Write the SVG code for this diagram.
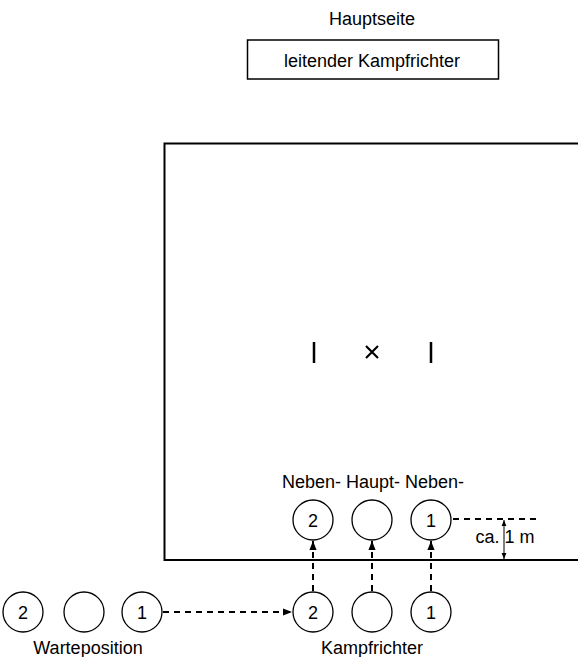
<svg xmlns="http://www.w3.org/2000/svg" width="578" height="657" viewBox="0 0 578 657">
<style>
text{font-family:"Liberation Sans",Arial,sans-serif;font-size:18px;fill:#000;text-anchor:middle}
.c{fill:#fff;stroke:#000;stroke-width:1.3}
.d{stroke:#000;stroke-width:2;stroke-dasharray:6,5;fill:none}
.s{stroke:#000;stroke-width:1;fill:none}
</style>
<defs>
<marker id="ah" viewBox="0 0 10 10" refX="10" refY="5" markerWidth="9" markerHeight="9" markerUnits="userSpaceOnUse" orient="auto"><path d="M0,1 L10,5 L0,9 Z" fill="#000"/></marker>
<marker id="sa" viewBox="0 0 10 10" refX="10" refY="5" markerWidth="6" markerHeight="6" markerUnits="userSpaceOnUse" orient="auto-start-reverse"><path d="M0,1 L10,5 L0,9 Z" fill="#000"/></marker>
</defs>
<text x="372" y="25">Hauptseite</text>
<g id="leitender"><rect x="247.5" y="40" width="251" height="39" fill="#fff" stroke="#000" stroke-width="1.5"/><text x="372" y="66.5">leitender Kampfrichter</text></g>
<g id="feld"><path d="M578,143.5 H164.5 V560 H578" fill="none" stroke="#000" stroke-width="2"/>
<line x1="314" y1="342" x2="314" y2="363" stroke="#000" stroke-width="2.5"/>
<line x1="431" y1="342" x2="431" y2="363" stroke="#000" stroke-width="2.5"/>
<path d="M366,346 L378,358 M378,346 L366,358" stroke="#000" stroke-width="2.2"/></g>
<text x="373" y="488">Neben- Haupt- Neben-</text>
<g id="kr2"><circle class="c" cx="313" cy="520" r="20"/><text x="313" y="526.5">2</text></g>
<g id="krH"><circle class="c" cx="372" cy="520" r="20"/></g>
<g id="kr1"><circle class="c" cx="431" cy="520" r="20"/><text x="431" y="526.5">1</text></g>
<g id="k2"><circle class="c" cx="313" cy="612" r="20"/><text x="313" y="618.5">2</text></g>
<g id="kH"><circle class="c" cx="372" cy="612" r="20"/></g>
<g id="k1"><circle class="c" cx="431" cy="612" r="20"/><text x="431" y="618.5">1</text></g>
<g id="w2"><circle class="c" cx="23" cy="612" r="20"/><text x="23" y="618.5">2</text></g>
<g id="wH"><circle class="c" cx="84" cy="612" r="20"/></g>
<g id="w1"><circle class="c" cx="142" cy="612" r="20"/><text x="142" y="618.5">1</text></g>
<text x="88" y="654">Warteposition</text>
<text x="372" y="654">Kampfrichter</text>
<g id="connectors">
<line class="d" x1="163" y1="612" x2="292" y2="612" marker-end="url(#ah)"/>
<line class="d" x1="313" y1="591" x2="313" y2="541" marker-end="url(#ah)"/>
<line class="d" x1="372" y1="591" x2="372" y2="541" marker-end="url(#ah)"/>
<line class="d" x1="431" y1="591" x2="431" y2="541" marker-end="url(#ah)"/>
<line class="d" x1="453" y1="519" x2="537" y2="519"/>
<line class="s" x1="504" y1="520" x2="504" y2="559" marker-start="url(#sa)" marker-end="url(#sa)"/>
</g>
<text x="505" y="543">ca. 1 m</text>
</svg>
